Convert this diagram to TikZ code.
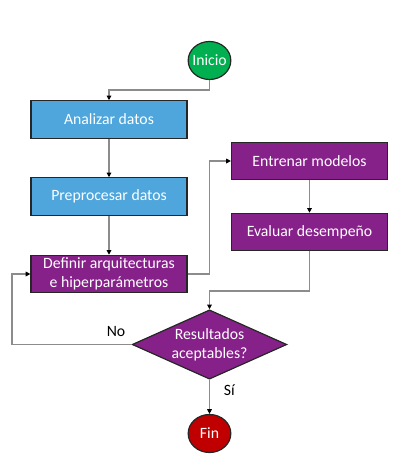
\documentclass[tikz,border=0pt]{standalone}
\usepackage{fontspec}
\setmainfont{Carlito}
\usepackage{xcolor}
\usetikzlibrary{shapes.geometric, arrows.meta, positioning}

\definecolor{verde}{HTML}{00B050}
\definecolor{azul}{HTML}{4EA6DC}
\definecolor{morado}{HTML}{87218A}
\definecolor{rojo}{HTML}{C00000}
\definecolor{gris}{HTML}{8C8C8C}

\begin{document}
\begin{tikzpicture}[x=0.75pt, y=-0.75pt,
  font=\fontsize{11.8}{14.2}\selectfont,
  caja/.style={rectangle, draw=black!85, line width=0.9pt, text=white, minimum width=117pt, minimum height=28pt, inner sep=0pt, align=center},
  terminal/.style={ellipse, draw=black!85, line width=0.9pt, text=white, minimum width=32pt, minimum height=28.5pt, inner sep=-5pt},
  flecha/.style={draw=gris, line width=0.8pt, -{Triangle[color=black, length=3.5pt, width=3.5pt]}}]
\useasboundingbox (0,0) rectangle (409,458);

\node (inicio) [terminal, fill=verde] at (209.5,60.5) {Inicio};
\node (analizar) [caja, fill=azul] at (109,119.5) {Analizar datos};
\node (preproc) [caja, fill=azul] at (109,196.5) {Preprocesar datos};
\node (definir) [caja, fill=morado] at (109,274) {Definir arquitecturas\\e hiperparámetros};
\node (entrenar) [caja, fill=morado] at (309.5,161) {Entrenar modelos};
\node (evaluar) [caja, fill=morado] at (309.5,232) {Evaluar desempeño};
\node (resultados) [diamond, draw=black!85, line width=0.9pt, fill=morado, text=white, aspect=2.2, inner sep=-3pt, minimum width=116pt, minimum height=52pt, align=center] at (209.5,344.5) {Resultados\\aceptables?};
\node (fin) [terminal, fill=rojo] at (209.5,433.5) {Fin};

\coordinate (b1) at (209.5,90);
\coordinate (b2) at (209.5,274);
\coordinate (b3) at (309.5,291);
\coordinate (b4) at (12,344.5);

\draw[flecha] (inicio) -- (b1) -| (analizar);
\draw[flecha] (analizar) -- (preproc);
\draw[flecha] (preproc) -- (definir);
\draw[flecha] (definir) -- (b2) |- (entrenar);
\draw[flecha] (entrenar) -- (evaluar);
\draw[flecha] (evaluar) -- (b3) -| (resultados);
\draw[flecha] (resultados) -- node[pos=0.13, above=2pt] {No} (b4) |- (definir);
\draw[flecha] (resultados) -- node[pos=0.3, right=7pt] {Sí} (fin);
\end{tikzpicture}
\end{document}
